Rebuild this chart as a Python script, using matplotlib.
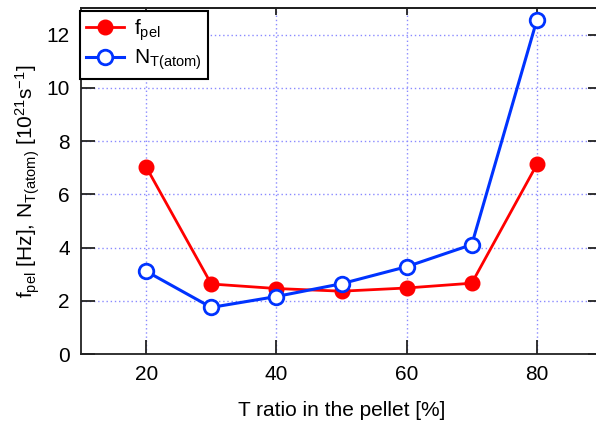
import matplotlib
matplotlib.use("Agg")
import matplotlib.pyplot as plt

# Data
t_ratio = [20, 30, 40, 50, 60, 70, 80]
f_pel = [7.03, 2.63, 2.46, 2.36, 2.48, 2.66, 7.12]
n_t_atom = [3.11, 1.75, 2.16, 2.64, 3.28, 4.11, 12.55]
xticks = [20, 40, 60, 80]
yticks = [0, 2, 4, 6, 8, 10, 12]

plt.rcParams['font.family'] = ['Liberation Sans', 'DejaVu Sans']
plt.rcParams['mathtext.fontset'] = 'custom'
plt.rcParams['mathtext.rm'] = 'Liberation Sans'
plt.rcParams['mathtext.it'] = 'Liberation Sans'

fig = plt.figure(figsize=(5.96, 4.23), dpi=100)
ax = fig.add_axes([81/596, 1 - 354/423, (602 - 81)/596, (354 - 8)/423])

grid_color = '#8a8aff'
for x in xticks:
    ax.axvline(x, color=grid_color, lw=1.0, ls=(0, (1, 2)), zorder=0)
for y in yticks[1:]:
    ax.axhline(y, color=grid_color, lw=1.0, ls=(0, (1, 2)), zorder=0)

ax.plot(t_ratio, f_pel, color='#ff0000', lw=2.0, marker='o', ms=10.5,
        mfc='#ff0000', mec='#ff0000', label=r'f$_{\mathregular{pel}}$', zorder=3)
ax.plot(t_ratio, n_t_atom, color='#0033ff', lw=2.2, marker='o', ms=10.5,
        mfc='white', mec='#0033ff', mew=2.0, label=r'N$_{\mathregular{T(atom)}}$', zorder=4)

ax.set_xlim(10, 90)
ax.set_ylim(0, 13)
ax.set_xticks(xticks)
ax.set_yticks(yticks)
ax.tick_params(axis='both', direction='in', length=10, width=1.3, labelsize=15,
               pad=8, color='#222222')
for s in ax.spines.values():
    s.set_linewidth(1.3)
    s.set_color('#222222')

secx = ax.secondary_xaxis('top')
secx.set_xticks(xticks)
secx.tick_params(direction='in', length=5, width=1.3, labeltop=False, color='#222222')
secx.spines['top'].set_linewidth(1.3)
secy = ax.secondary_yaxis('right')
secy.set_yticks(yticks)
secy.tick_params(direction='in', length=10, width=1.3, labelright=False, color='#222222')

ax.set_xlabel('T ratio in the pellet [%]', fontsize=15, labelpad=12)
ax.set_ylabel(r'f$_{\mathregular{pel}}$ [Hz], N$_{\mathregular{T(atom)}}$ '
              r'[10$^{\mathregular{21}}$s$^{\mathregular{-1}}$]',
              fontsize=15, labelpad=3)

leg = ax.legend(loc='upper left', bbox_to_anchor=(80/596, 1 - 11/423),
                bbox_transform=fig.transFigure, borderaxespad=0, fancybox=False,
                framealpha=1, edgecolor='black', fontsize=15, handlelength=1.8,
                borderpad=0.3, labelspacing=0.25, handletextpad=0.5)
leg.get_frame().set_linewidth(1.5)
leg.set_zorder(10)

fig.savefig('out.png', dpi=100)
